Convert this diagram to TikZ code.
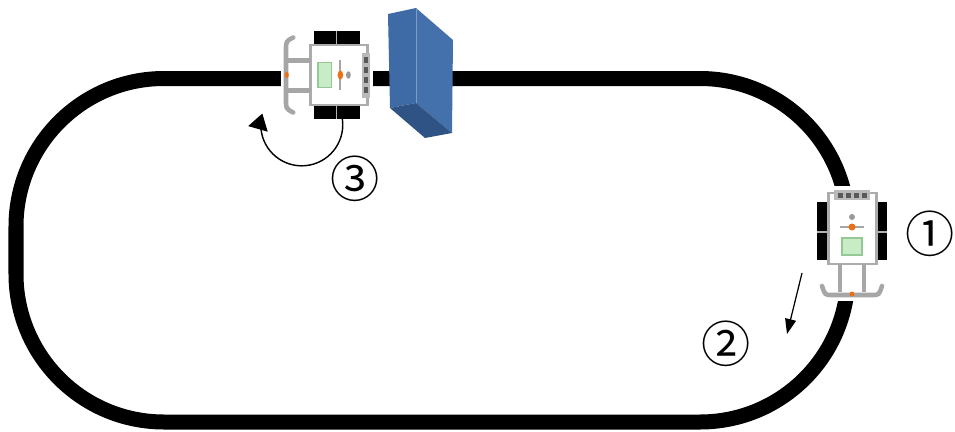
\documentclass[tikz,border=0pt]{standalone}
\usepackage{fontspec}
\usepackage{tikz}
\usetikzlibrary{arrows,arrows.meta}
\newfontfamily\cjk{Noto Sans CJK JP}

\definecolor{botorange}{RGB}{236,112,22}
\definecolor{botgreen}{RGB}{200,236,198}
\definecolor{botgreenedge}{RGB}{150,200,150}
\definecolor{blockfront}{RGB}{62,107,166}
\definecolor{blockside}{RGB}{68,113,172}
\definecolor{blockbottom}{RGB}{47,83,132}

% robot seen from above, sensor end up, caster down (px units)
\newcommand{\robotshape}{%
  \fill[white] (-38,-44) rectangle (38,71);
  % wheels
  \fill[black] (-35,-28) rectangle (-25,30);
  \fill[black] (25,-28) rectangle (35,30);
  \draw[wheelgap] (-35,2) -- (-25,2);
  \draw[wheelgap] (25,2) -- (35,2);
  % brick
  \draw[robotframe] (-24,-37) rectangle (24,34);
  \fill[gray!55] (-18,-40) rectangle (18,-30);
  \foreach \s in {-12,-4,4,12}
    \fill[black!65] (\s-2.5,-37.5) rectangle (\s+2.5,-32.5);
  \fill[gray!80] (0,-13) circle (3);
  \draw[gray!70, line width=1.2pt] (-12,-3) -- (12,-3);
  \fill[botorange] (0,-3) circle (3.5);
  \draw[botgreenedge, fill=botgreen, line width=0.8pt] (-10,8) rectangle (10,25);
  % caster
  \fill[gray!70] (-14,34) rectangle (-10,62);
  \fill[gray!70] (10,34) rectangle (14,62);
  \draw[caster] (-30,56) .. controls (-27,65) .. (-20,65) -- (20,65) .. controls (27,65) .. (30,56);
  \fill[botorange] (0,64) circle (2.5);
}

\begin{document}
\begin{tikzpicture}[x=0.2mm,y=-0.2mm]
    \tikzstyle{track}=[line width=3mm, rounded corners=29.6mm]
    \tikzstyle{robotframe}=[gray!65, line width=1.7pt, fill=white]
    \tikzstyle{wheelgap}=[gray!60, line width=1pt]
    \tikzstyle{caster}=[gray!70, line width=2.6pt, line cap=round]
    \tikzstyle{turnarrow}=[line width=0.8pt, -{Triangle[width=4mm,length=3.2mm]}]
    \tikzstyle{runarrow}=[line width=0.7pt, -{Triangle[width=2.2mm,length=3mm]}]
    \tikzstyle{steplabel}=[inner sep=0pt, font=\cjk\fontsize{28}{28}\selectfont]

    \useasboundingbox (0,0) rectangle (955,432);

    % course
    \draw[track] (16,78.5) rectangle (848,422);

    % robot on the right bend
    \begin{scope}[shift={(852,230)}]
        \robotshape
    \end{scope}

    % robot at the obstacle
    \begin{scope}[shift={(338,75)}, rotate=-90, xscale=1.25, yscale=0.8]
        \robotshape
    \end{scope}

    % obstacle
    \fill[blockfront] (388,14) -- (416,8) -- (416,103) -- (390,108) -- cycle;
    \fill[blockside] (416,8) -- (453,40) -- (452,133) -- (416,103) -- cycle;
    \fill[blockbottom] (390,108) -- (416,103) -- (452,133) -- (425,138) -- cycle;
    \draw[blockside!70!white, line width=0.3pt] (416,9) -- (416,103);

    % arrows
    \coordinate (turnfrom) at (342,117);
    \coordinate (runfrom) at (802,273);
    \coordinate (runto) at (787,334);
    \draw[turnarrow] (turnfrom) arc[start angle=-11, end angle=196, radius=41];
    \draw[runarrow] (runfrom) -- (runto);

    % step numbers
    \node[steplabel] (one) at (930,234) {①};
    \node[steplabel] (two) at (726,344) {②};
    \node[steplabel] (three) at (355,179) {③};
\end{tikzpicture}
\end{document}
